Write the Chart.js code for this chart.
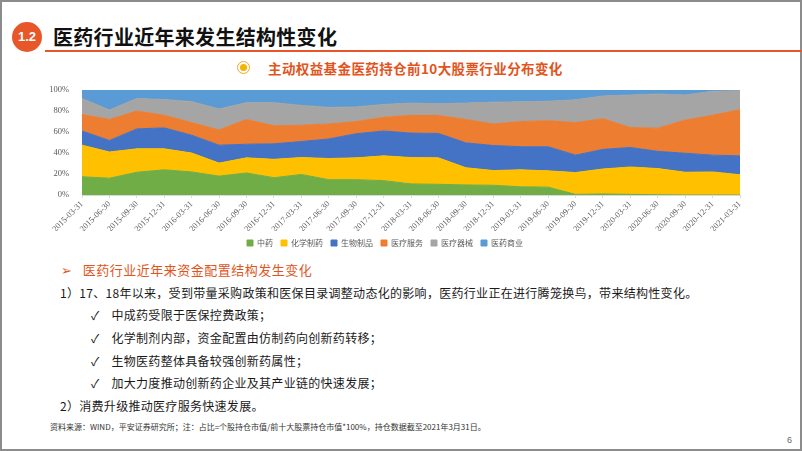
<!DOCTYPE html>
<html>
<head>
<meta charset="utf-8">
<script src="https://cdn.jsdelivr.net/npm/chart.js@4"></script>
<style>
  html, body { margin: 0; padding: 0; }
  body { width: 802px; height: 451px; position: relative; background: #fff; overflow: hidden;
         font-family: "Noto Sans CJK SC", sans-serif; color: #262626; }
  .frame { position: absolute; left: 0; top: 0; width: 798px; height: 447px; border: 2px solid #8c8c8c; }
  .abs { position: absolute; white-space: nowrap; }
  .badge { left: 12px; top: 22px; width: 30px; height: 30px; border-radius: 50%; background: #e8572a;
           color: #fff; font: bold 13px "Liberation Sans", sans-serif; text-align: center; line-height: 30px; }
  .title { left: 53px; top: 22px; font-size: 20px; font-weight: bold; line-height: 30px; color: #111; letter-spacing: 0.3px; }
  .rule { left: 45px; top: 50px; width: 757px; height: 2px; background: #e8572a; }
  .icon { left: 237px; top: 61px; width: 11px; height: 11px; border-radius: 50%; border: 1.5px solid #f5a623; background: #fff; }
  .icon div { position: absolute; left: 2px; top: 2px; width: 7px; height: 7px; border-radius: 50%; background: #f5b400; }
  .ctitle { left: 268px; top: 59px; font-size: 13.5px; font-weight: bold; color: #e2541b; line-height: 18px; letter-spacing: 0.4px; }
  #wrap { position: absolute; left: 30px; top: 80px; width: 730px; height: 177px; }
  .head { left: 61px; top: 260px; font-size: 13px; color: #e2541b; line-height: 20px; letter-spacing: 0.5px; }
  .line { font-size: 12px; line-height: 20px; letter-spacing: 0.3px; color: #1a1a1a; }
  .src { left: 50px; top: 420px; font-size: 8px; line-height: 14px; color: #333; }
  .page { left: 787px; top: 435px; font: 9px "Liberation Sans", sans-serif; color: #666; }
</style>
</head>
<body>
<div class="frame"></div>
<div class="abs badge">1.2</div>
<div class="abs title">医药行业近年来发生结构性变化</div>
<div class="abs rule"></div>
<div class="abs icon"><div></div></div>
<div class="abs ctitle">主动权益基金医药持仓前10大股票行业分布变化</div>
<div id="wrap"><canvas id="areaChart"></canvas></div>
<div class="abs head">➢&nbsp;&nbsp; 医药行业近年来资金配置结构发生变化</div>
<div class="abs line" style="left:60px;top:283px">1）17、18年以来，受到带量采购政策和医保目录调整动态化的影响，医药行业正在进行腾笼换鸟，带来结构性变化。</div>
<div class="abs line" style="left:91px;top:305px">✓&nbsp;&nbsp;&nbsp;&nbsp;中成药受限于医保控费政策；</div>
<div class="abs line" style="left:91px;top:328px">✓&nbsp;&nbsp;&nbsp;&nbsp;化学制剂内部，资金配置由仿制药向创新药转移；</div>
<div class="abs line" style="left:91px;top:351px">✓&nbsp;&nbsp;&nbsp;&nbsp;生物医药整体具备较强创新药属性；</div>
<div class="abs line" style="left:91px;top:373px">✓&nbsp;&nbsp;&nbsp;&nbsp;加大力度推动创新药企业及其产业链的快速发展；</div>
<div class="abs line" style="left:60px;top:396px">2）消费升级推动医疗服务快速发展。</div>
<div class="abs src">资料来源：WIND，平安证券研究所；注：占比=个股持仓市值/前十大股票持仓市值*100%，持仓数据截至2021年3月31日。</div>
<div class="abs page">6</div>

<script>
// quarter-end dates
const dates = [
  "2015-03-31", "2015-06-30", "2015-09-30", "2015-12-31",
  "2016-03-31", "2016-06-30", "2016-09-30", "2016-12-31",
  "2017-03-31", "2017-06-30", "2017-09-30", "2017-12-31",
  "2018-03-31", "2018-06-30", "2018-09-30", "2018-12-31",
  "2019-03-31", "2019-06-30", "2019-09-30", "2019-12-31",
  "2020-03-31", "2020-06-30", "2020-09-30", "2020-12-31",
  "2021-03-31"
];

// share of each sector, %
const zhongyao   = [17.4, 16, 21.7, 24, 22, 18, 21, 16.5, 19.6, 14.6, 14.6, 13.7, 10.6, 10.2, 9.6, 9.3, 7.8, 7.5, 0.6, 1, 0.6, 0.3, 0, 0, 0];
const huaxue     = [30.1, 25, 22.3, 20, 18, 12.4, 14.4, 17.5, 16.1, 20.2, 20.8, 23.6, 25.1, 25.2, 16.4, 14, 16.2, 15.5, 20.8, 23.8, 26.1, 24.9, 21.7, 22, 19.3];
const shengwu    = [13.5, 11, 19, 20, 17, 17.1, 13, 14.8, 15.3, 18.6, 23, 23.7, 23.3, 23.3, 23.7, 23.9, 22, 23, 16.6, 18.7, 18.6, 16.4, 18.1, 16, 18];
const yiliaofuwu = [15.7, 20, 17, 12, 12, 14.5, 23.6, 17.2, 15.5, 14.3, 11.6, 13, 16.8, 17.1, 22.3, 20.5, 24, 24.8, 31, 29.2, 19, 22.1, 31.6, 38, 44.1];
const qixie      = [15.3, 9, 12, 15, 20, 20, 16, 22, 18.9, 15.8, 14, 12.3, 11.8, 11.2, 15.6, 20.8, 18.8, 18.6, 21.7, 21.7, 31, 32.6, 23.9, 22.8, 18];
const shangye    = [8, 19, 8, 9, 11, 18, 12, 12, 14.6, 16.5, 16, 13.7, 12.4, 13, 12.4, 11.5, 11.2, 10.6, 9.3, 5.6, 4.7, 3.7, 4.7, 1.2, 0.6];

const seriesNames = ["中药", "化学制药", "生物制品", "医疗服务", "医疗器械", "医药商业"];
const seriesColors = ["#70ad47", "#ffc000", "#4472c4", "#ed7d31", "#a5a5a5", "#5b9bd5"];
const seriesData = [zhongyao, huaxue, shengwu, yiliaofuwu, qixie, shangye];

const yTicks = [0, 20, 40, 60, 80, 100];

const tickFont = { family: "'Liberation Serif', 'Noto Sans CJK SC', serif", size: 8.5 };

const datasets = seriesData.map((vals, i) => ({
  label: seriesNames[i],
  data: vals,
  backgroundColor: seriesColors[i],
  borderColor: seriesColors[i],
  borderWidth: 1,
  pointRadius: 0,
  tension: 0,
  fill: i === 0 ? "origin" : "-1"
}));

new Chart(document.getElementById("areaChart"), {
  type: "line",
  data: { labels: dates, datasets: datasets },
  options: {
    responsive: true,
    maintainAspectRatio: false,
    animation: false,
    layout: { padding: { top: 6, right: 20, left: 0, bottom: 0 } },
    plugins: {
      legend: {
        position: "bottom",
        labels: {
          boxWidth: 6, boxHeight: 6, padding: 8,
          color: "#595959",
          font: { family: "'Noto Sans CJK SC', serif", size: 8 }
        }
      },
      tooltip: { enabled: false }
    },
    scales: {
      x: {
        grid: { display: true, drawOnChartArea: false, drawTicks: true, tickLength: 3, color: "#d9d9d9" },
        border: { color: "#d9d9d9" },
        ticks: { color: "#595959", font: tickFont, maxRotation: 45, minRotation: 45, autoSkip: false, padding: 1 },
        afterFit: (scale) => { scale.height = 36; }
      },
      y: {
        stacked: true,
        min: 0, max: 100,
        afterBuildTicks: (scale) => { scale.ticks = yTicks.map(v => ({ value: v })); },
        grid: { display: false },
        border: { display: false },
        ticks: { color: "#595959", font: tickFont, padding: 5, callback: (v) => v + "%" },
        afterFit: (scale) => { scale.width = 52; }
      }
    }
  }
});
</script>
</body>
</html>
